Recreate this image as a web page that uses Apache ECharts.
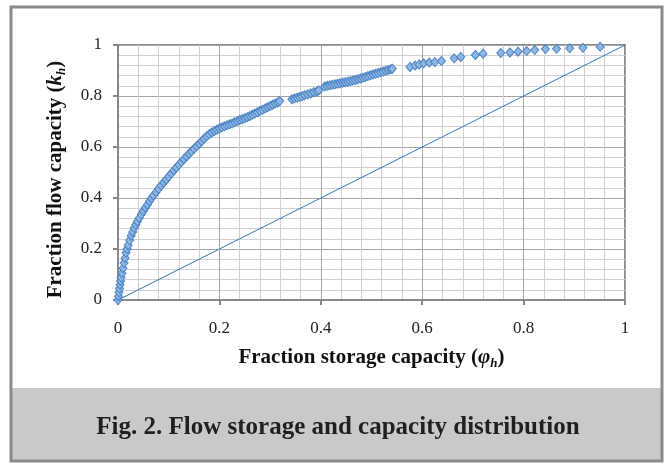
<!DOCTYPE html>
<html>
<head>
<meta charset="utf-8">
<script src="https://cdn.jsdelivr.net/npm/echarts@6/dist/echarts.min.js"></script>
<style>
html,body{margin:0;padding:0;background:#fff;}
#chart{width:667px;height:466px;}
</style>
</head>
<body>
<div id="chart"></div>
<script>
// Fraction storage capacity (phi_h) of each sample
var phi = [
  0, 0.001, 0.002, 0.003, 0.004, 0.005, 0.006, 0.008, 0.010, 0.012,
  0.014, 0.016, 0.018, 0.020, 0.023, 0.026, 0.029, 0.032, 0.035, 0.038,
  0.042, 0.046, 0.050, 0.054, 0.058, 0.062, 0.066, 0.070, 0.075, 0.080,
  0.085, 0.090, 0.095, 0.100, 0.105, 0.110, 0.115, 0.120, 0.125, 0.130,
  0.135, 0.140, 0.145, 0.150, 0.155, 0.160, 0.165, 0.170, 0.175, 0.180,
  0.185, 0.190, 0.195, 0.200, 0.205, 0.210, 0.215, 0.220, 0.225, 0.230,
  0.235, 0.240, 0.245, 0.250, 0.255, 0.260, 0.265, 0.270, 0.275, 0.280,
  0.285, 0.290, 0.295, 0.300, 0.305, 0.310, 0.315, 0.319,
  0.343, 0.348, 0.353, 0.358, 0.363, 0.368, 0.374, 0.380, 0.386, 0.392, 0.396,
  0.408, 0.413, 0.418, 0.423, 0.428, 0.433, 0.438, 0.443, 0.448, 0.453,
  0.458, 0.463, 0.468, 0.473, 0.478, 0.483, 0.488, 0.493, 0.498, 0.503,
  0.508, 0.513, 0.518, 0.523, 0.528, 0.533, 0.538, 0.541,
  0.576, 0.586, 0.594, 0.603, 0.614, 0.625, 0.638, 0.663, 0.676, 0.705,
  0.720, 0.755, 0.773, 0.789, 0.806, 0.822, 0.843, 0.865, 0.891, 0.917, 0.951
];
// Fraction flow capacity (k_h) of each sample
var kh = [
  0, 0.015, 0.030, 0.045, 0.060, 0.075, 0.088, 0.105, 0.125, 0.145,
  0.165, 0.185, 0.200, 0.215, 0.234, 0.252, 0.267, 0.282, 0.295, 0.308,
  0.322, 0.336, 0.349, 0.362, 0.374, 0.387, 0.399, 0.410, 0.423, 0.436,
  0.449, 0.461, 0.472, 0.484, 0.496, 0.508, 0.519, 0.530, 0.541, 0.552,
  0.563, 0.573, 0.583, 0.593, 0.603, 0.613, 0.623, 0.633, 0.642, 0.650,
  0.657, 0.663, 0.668, 0.673, 0.677, 0.681, 0.685, 0.689, 0.692, 0.697,
  0.701, 0.706, 0.709, 0.713, 0.717, 0.722, 0.726, 0.731, 0.736, 0.741,
  0.746, 0.751, 0.756, 0.761, 0.766, 0.771, 0.775, 0.780,
  0.787, 0.790, 0.793, 0.796, 0.799, 0.803, 0.806, 0.810, 0.815, 0.818, 0.822,
  0.837, 0.840, 0.842, 0.844, 0.846, 0.848, 0.850, 0.852, 0.854, 0.856,
  0.858, 0.861, 0.863, 0.866, 0.869, 0.872, 0.875, 0.878, 0.881, 0.884,
  0.887, 0.890, 0.893, 0.896, 0.899, 0.902, 0.905, 0.907,
  0.914, 0.920, 0.924, 0.928, 0.931, 0.933, 0.937, 0.948, 0.953, 0.961,
  0.966, 0.969, 0.971, 0.974, 0.976, 0.980, 0.984, 0.985, 0.987, 0.989, 0.993
];
// Reference (homogeneous) line
var diagX = [0, 1];
var diagY = [0, 1];
var xTickLabels = ['0', '0.2', '0.4', '0.6', '0.8', '1'];
var yTickLabels = ['0', '0.2', '0.4', '0.6', '0.8', '1'];
var captionText = 'Fig. 2. Flow storage and capacity distribution';

var serif = '"Liberation Serif", "DejaVu Serif", serif';
var scatterData = phi.map(function (p, i) { return [p, kh[i]]; });
var diagData = diagX.map(function (x, i) { return [x, diagY[i]]; });

var chart = echarts.init(document.getElementById('chart'), null, {renderer: 'canvas'});

function titleRich() {
  return {
    b: {fontFamily: serif, fontWeight: 'bold', fontSize: 21, color: '#111', lineHeight: 24},
    i: {fontFamily: serif, fontWeight: 'bold', fontStyle: 'italic', fontSize: 21, color: '#111', lineHeight: 24},
    s: {fontFamily: serif, fontWeight: 'bold', fontStyle: 'italic', fontSize: 13, color: '#111', lineHeight: 24, verticalAlign: 'bottom', padding: [9, 0, 0, 0]}
  };
}

var axisCommon = {
  type: 'value',
  min: 0,
  max: 1,
  interval: 0.2,
  nameLocation: 'middle',
  axisLine: {show: true, lineStyle: {color: '#888888', width: 2}},
  axisTick: {show: true, inside: false, length: 5, lineStyle: {color: '#888888', width: 2}},
  splitLine: {show: true, lineStyle: {color: '#a6a6a6', width: 1}},
  minorTick: {show: false, splitNumber: 5},
  minorSplitLine: {show: true, lineStyle: {color: '#d0d0d0', width: 1}}
};

var option = {
  backgroundColor: '#ffffff',
  animation: false,
  grid: {
    left: 118, right: 42, top: 45, bottom: 166,
    show: true, borderColor: '#8c8c8c', borderWidth: 2, backgroundColor: 'transparent'
  },
  xAxis: Object.assign({}, axisCommon, {
    name: '{b|Fraction storage capacity (}{i|φ}{s|h}{b|)}',
    nameGap: 46,
    nameTextStyle: {rich: titleRich()},
    axisLabel: {
      margin: 20, fontFamily: serif, fontSize: 17, color: '#222',
      formatter: function (v) { return xTickLabels[Math.round(v / 0.2)]; }
    }
  }),
  yAxis: Object.assign({}, axisCommon, {
    name: '{b|Fraction flow capacity (}{i|k}{s|h}{b|)}',
    nameGap: 50,
    nameRotate: 90,
    nameTextStyle: {rich: titleRich(), padding: [0, 14, 0, 0]},
    axisLabel: {
      margin: 16, fontFamily: serif, fontSize: 17, color: '#222',
      formatter: function (v) { return yTickLabels[Math.round(v / 0.2)]; }
    }
  }),
  graphic: [
    {
      type: 'rect', z: -10, silent: true,
      shape: {x: 11, y: 388, width: 651, height: 73},
      style: {fill: '#c9c9cb'}
    },
    {
      type: 'rect', z: 100, silent: true,
      shape: {x: 11, y: 7, width: 651, height: 454},
      style: {fill: 'none', stroke: '#8a8a8a', lineWidth: 3}
    },
    {
      type: 'text', z: 100, silent: true,
      x: 338, y: 428,
      style: {
        text: captionText,
        fontFamily: serif, fontWeight: 'bold', fontSize: 25,
        fill: '#231f20', align: 'center', verticalAlign: 'middle'
      }
    }
  ],
  series: [
    {
      type: 'line',
      data: diagData,
      showSymbol: false,
      symbol: 'none',
      lineStyle: {color: '#2f77c0', width: 1},
      z: 2
    },
    {
      type: 'scatter',
      data: scatterData,
      symbol: 'diamond',
      symbolSize: [8, 9],
      itemStyle: {color: '#8fb5e3', borderColor: '#4a83c3', borderWidth: 1, opacity: 1},
      z: 3
    }
  ]
};
chart.setOption(option);
</script>
</body>
</html>
